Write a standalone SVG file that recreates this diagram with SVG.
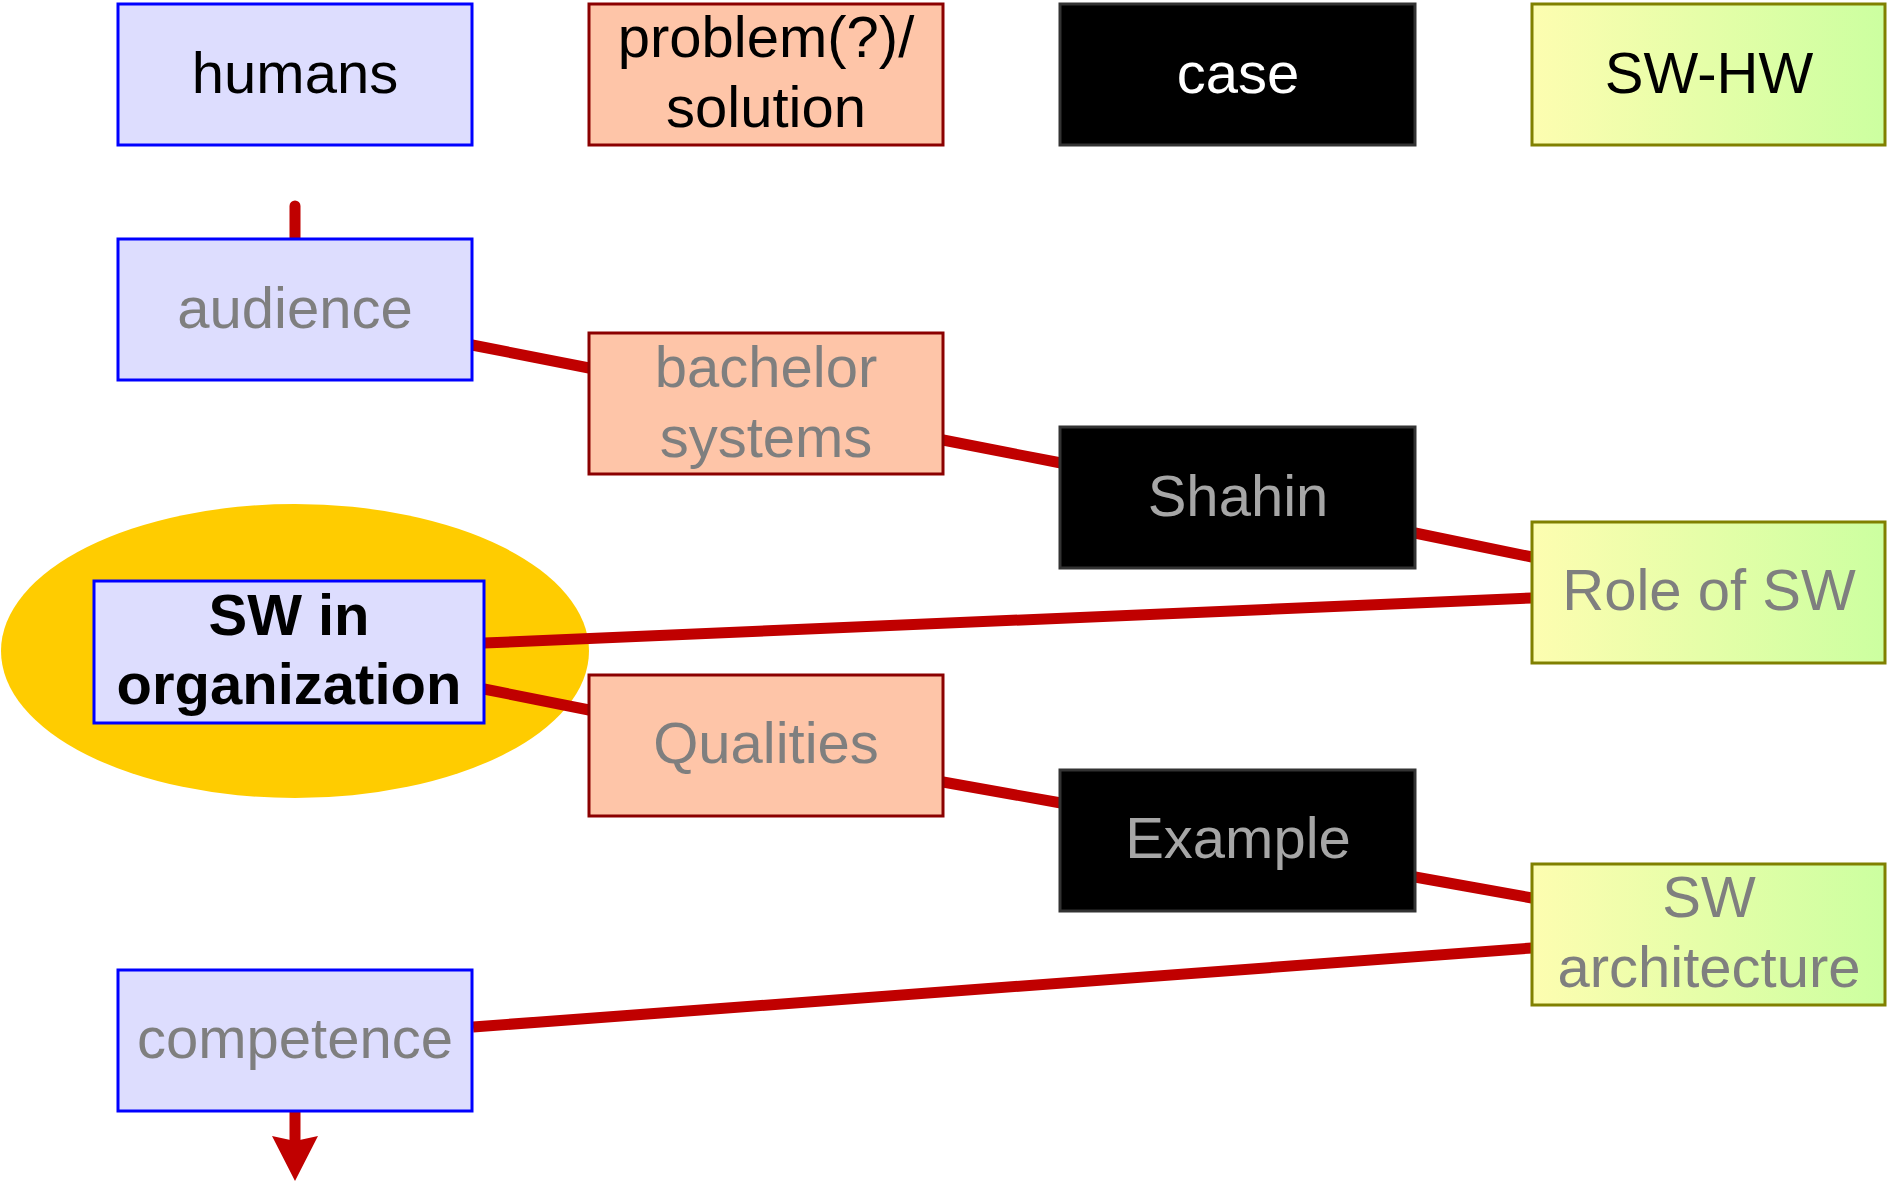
<svg xmlns="http://www.w3.org/2000/svg" width="1887" height="1184" viewBox="0 0 1887 1184">
  <defs>
    <linearGradient id="swGrad" x1="0" y1="0" x2="1" y2="0">
      <stop offset="0" stop-color="#fdfdb0"/>
      <stop offset="1" stop-color="#ccffa0"/>
    </linearGradient>
    <marker id="arrowHead" markerUnits="userSpaceOnUse" markerWidth="50" markerHeight="50" viewBox="0 -25 50 50" refX="5" refY="0" orient="auto">
      <path d="M45,0 L0,-23 L5,0 L0,23 Z" fill="#c00000"/>
    </marker>
    <style>
      .human rect { fill: #ddddfe; stroke: #0000ff; stroke-width: 3; }
      .problem rect { fill: #fec5a8; stroke: #8b0000; stroke-width: 3; }
      .case rect { fill: #000000; stroke: #333333; stroke-width: 3; }
      .swhw rect { fill: url(#swGrad); stroke: #808000; stroke-width: 3; }
      text { font-family: "Liberation Sans", Arial, sans-serif; font-size: 58px; text-anchor: middle; }
      .head { fill: #000000; }
      .head-light { fill: #ffffff; }
      .sub { fill: #7f7f7f; }
      .sub-dark { fill: #a6a6a6; }
      .focus { fill: #000000; font-weight: bold; }
      .link { stroke: #c00000; stroke-width: 11; fill: none; }
    </style>
  </defs>

  <rect width="1887" height="1184" fill="#ffffff"/>

  <!-- highlight behind the current topic -->
  <g id="highlight">
    <ellipse cx="295" cy="651" rx="294" ry="147" fill="#ffcc00"/>
  </g>

  <!-- connectors -->
  <g id="connectors">
    <path class="link" d="M295,206 L295,240" stroke-linecap="round"/>
    <path class="link" d="M472,345 L589,368"/>
    <path class="link" d="M943,440 L1061,463"/>
    <path class="link" d="M1415,533 L1532,557"/>
    <path class="link" d="M484,643 L1532,598"/>
    <path class="link" d="M484,689 L589,710"/>
    <path class="link" d="M943,782 L1061,803"/>
    <path class="link" d="M1415,877 L1532,898"/>
    <path class="link" d="M473,1027 L1532,948"/>
    <path class="link" d="M295,1112 L295,1141" marker-end="url(#arrowHead)"/>
  </g>

  <!-- column headers -->
  <g id="humans" class="human">
    <rect x="118" y="4" width="354" height="141"/>
    <text class="head" x="295" y="93">humans</text>
  </g>
  <g id="problem-solution" class="problem">
    <rect x="589" y="4" width="354" height="141"/>
    <text class="head" x="766" y="57">problem(?)/</text>
    <text class="head" x="766" y="127">solution</text>
  </g>
  <g id="case" class="case">
    <rect x="1060" y="4" width="355" height="141"/>
    <text class="head-light" x="1238" y="93">case</text>
  </g>
  <g id="sw-hw" class="swhw">
    <rect x="1532" y="4" width="353" height="141"/>
    <text class="head" x="1709" y="93">SW-HW</text>
  </g>

  <!-- topic nodes -->
  <g id="audience" class="human">
    <rect x="118" y="239" width="354" height="141"/>
    <text class="sub" x="295" y="328">audience</text>
  </g>
  <g id="bachelor-systems" class="problem">
    <rect x="589" y="333" width="354" height="141"/>
    <text class="sub" x="766" y="387">bachelor</text>
    <text class="sub" x="766" y="457">systems</text>
  </g>
  <g id="shahin" class="case">
    <rect x="1060" y="427" width="355" height="141"/>
    <text class="sub-dark" x="1238" y="516">Shahin</text>
  </g>
  <g id="role-of-sw" class="swhw">
    <rect x="1532" y="522" width="353" height="141"/>
    <text class="sub" x="1709" y="610">Role of SW</text>
  </g>
  <g id="sw-in-organization" class="human">
    <rect x="94" y="581" width="390" height="142"/>
    <text class="focus" x="289" y="635">SW in</text>
    <text class="focus" x="289" y="704">organization</text>
  </g>
  <g id="qualities" class="problem">
    <rect x="589" y="675" width="354" height="141"/>
    <text class="sub" x="766" y="763">Qualities</text>
  </g>
  <g id="example" class="case">
    <rect x="1060" y="770" width="355" height="141"/>
    <text class="sub-dark" x="1238" y="858">Example</text>
  </g>
  <g id="sw-architecture" class="swhw">
    <rect x="1532" y="864" width="353" height="141"/>
    <text class="sub" x="1709" y="917">SW</text>
    <text class="sub" x="1709" y="987">architecture</text>
  </g>
  <g id="competence" class="human">
    <rect x="118" y="970" width="354" height="141"/>
    <text class="sub" x="295" y="1058">competence</text>
  </g>
</svg>
